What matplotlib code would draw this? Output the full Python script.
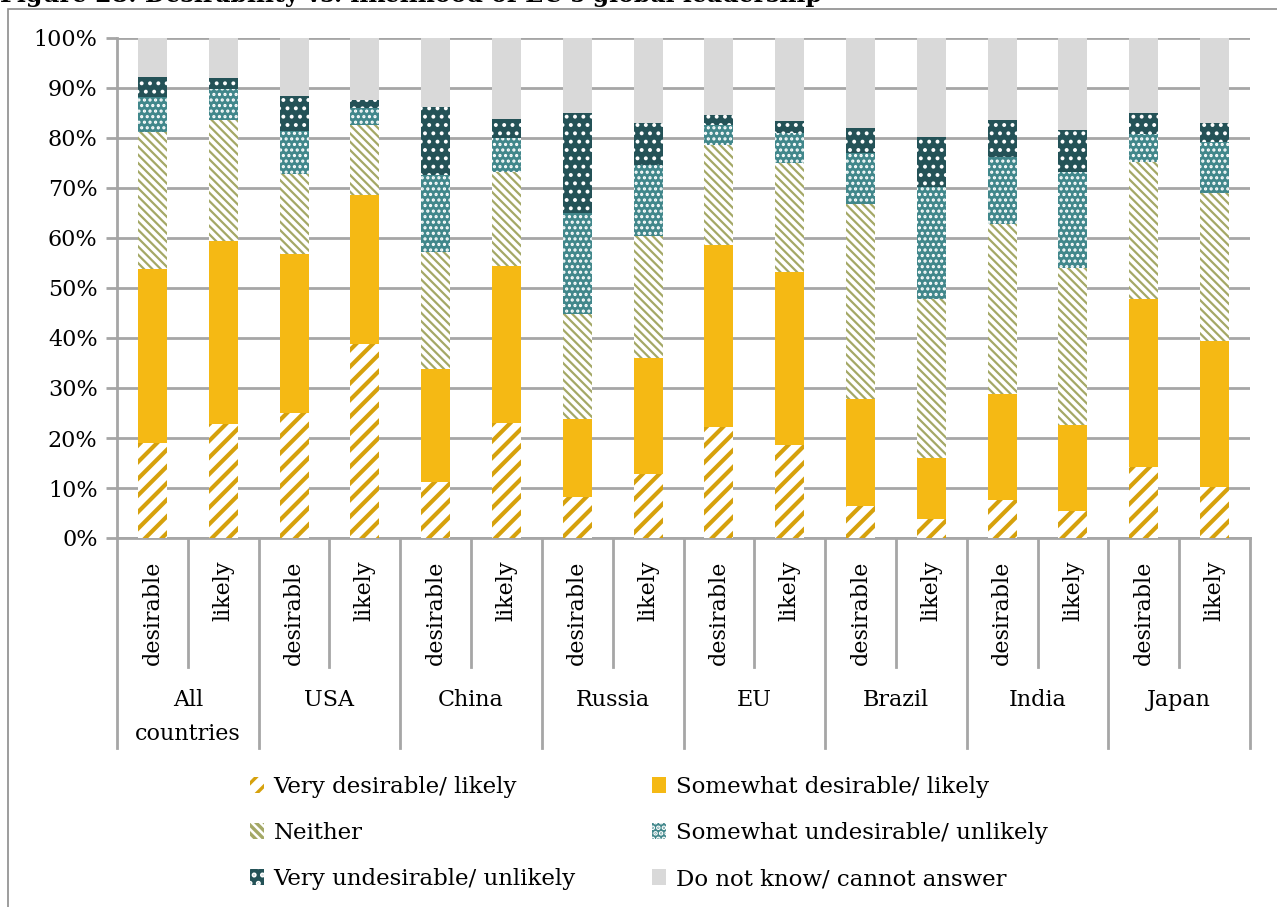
import matplotlib
matplotlib.use("Agg")
import matplotlib.pyplot as plt
import matplotlib.transforms as mtransforms
from matplotlib.patches import Rectangle
import numpy as np

plt.rcParams["font.family"] = ["DejaVu Serif"]
plt.rcParams["hatch.linewidth"] = 2.4

countries = ["All\ncountries", "USA", "China", "Russia", "EU", "Brazil", "India", "Japan"]
sub_labels = ["desirable", "likely"]

series_names = [
    "Very desirable/ likely",
    "Somewhat desirable/ likely",
    "Neither",
    "Somewhat undesirable/ unlikely",
    "Very undesirable/ unlikely",
    "Do not know/ cannot answer",
]

# shares in %, bar order: desirable/likely for each country
very_pos = [19, 22.8, 25, 38.9, 11.3, 23, 8.3, 12.9, 22.2, 18.6, 6.5, 3.8, 7.7, 5.5, 14.3, 10.2]
somewhat_pos = [34.9, 36.7, 31.9, 29.8, 22.5, 31.5, 15.5, 23.2, 36.5, 34.7, 21.3, 12.2, 21.2, 17.1, 33.5, 29.2]
neither = [27.3, 24.2, 15.9, 13.9, 23.5, 18.8, 21, 24.4, 20, 21.8, 39.1, 31.9, 34, 31.4, 27.5, 29.7]
somewhat_neg = [7, 6.2, 8.7, 3.4, 15.3, 6.8, 20.2, 14.1, 3.9, 5.9, 10.2, 22.3, 13.3, 19.3, 5.6, 10.2]
very_neg = [4.1, 2.2, 6.9, 1.5, 13.6, 3.7, 20.1, 8.4, 2.1, 2.4, 5, 10, 7.5, 8.3, 4.1, 3.7]
dont_know = [7.7, 7.9, 11.5, 12.5, 13.8, 16.2, 14.9, 17, 15.3, 16.6, 17.9, 19.8, 16.3, 18.4, 15, 17]

series_values = [very_pos, somewhat_pos, neither, somewhat_neg, very_neg, dont_know]

# (facecolor, hatch colour, hatch, hatch linewidth)
styles = [
    ("white", "#D6A10C", "//", 3.0),
    ("#F5B914", "#F5B914", None, 1.0),
    ("white", "#A4A866", "\\\\\\\\", 1.6),
    ("#41878B", "white", "...", 1.5),
    ("#245257", "white", "..", 1.6),
    ("#D9D9D9", "#D9D9D9", None, 1.0),
]

fig = plt.figure(figsize=(12.77, 9.07), dpi=100)
ax = fig.add_axes([117 / 1277, 1 - 538 / 907, 1133 / 1277, 500 / 907])

x = np.arange(len(very_pos))
bottom = np.zeros(len(x))
handles = []
for name, vals, (fc, hc, hatch, hlw) in zip(series_names, series_values, styles):
    vals = np.array(vals, dtype=float)
    with plt.rc_context({"hatch.linewidth": hlw}):
        bars = ax.bar(x, vals, bottom=bottom, width=0.41, color=fc, edgecolor=hc,
                      hatch=hatch, linewidth=0, label=name, zorder=3)
    for b in bars:
        if hasattr(b, "set_hatch_linewidth"):
            b.set_hatch_linewidth(hlw)
    handles.append(bars)
    bottom += vals

ax.set_xlim(-0.5, len(x) - 0.5)
ax.set_ylim(0, 100)
ax.set_yticks(np.arange(0, 101, 10))
ax.set_yticklabels([f"{v}%" for v in range(0, 101, 10)], fontsize=16)
ax.grid(axis="y", color="#A6A6A6", linewidth=2, zorder=0)
ax.set_axisbelow(True)
for side in ["top", "right"]:
    ax.spines[side].set_visible(False)
ax.spines["left"].set_color("#A6A6A6")
ax.spines["left"].set_linewidth(2)
ax.spines["bottom"].set_color("#A6A6A6")
ax.spines["bottom"].set_linewidth(2)
ax.tick_params(axis="y", length=8, width=2, color="#A6A6A6", pad=6)
ax.set_xticks([])

# two-level category axis
trans = mtransforms.blended_transform_factory(ax.transData, ax.transAxes)
for i in range(len(x)):
    ax.text(x[i], -0.045, sub_labels[i % 2], transform=trans, rotation=90,
            ha="center", va="top", fontsize=16)
for k in range(len(x) + 1):
    xpos = k - 0.5
    y_end = -0.42 if k % 2 == 0 else -0.258
    ax.plot([xpos, xpos], [0, y_end], transform=trans, color="#A6A6A6",
            linewidth=2, clip_on=False)
for j, name in enumerate(countries):
    ax.text(2 * j + 0.5, -0.302, name, transform=trans, ha="center", va="top",
            fontsize=16, linespacing=1.7)

order = [0, 2, 4, 1, 3, 5]
fig.legend([handles[i] for i in order], [series_names[i] for i in order],
           ncol=2, loc="center", bbox_to_anchor=(0.5 + 10 / 1277, 1 - 833 / 907), frameon=False,
           fontsize=16.5, handlelength=0.65, handleheight=0.65, handletextpad=0.4,
           columnspacing=3.3, labelspacing=1.05)

# chart frame and clipped heading
fig.patches.append(Rectangle((8 / 1277, -0.05), 1.1, 1.05 - 9 / 907, transform=fig.transFigure,
                             fill=False, edgecolor="#8C8C8C", linewidth=1.2))
fig.text(0, 1 - 2 / 907, "Figure 28: Desirability vs. likelihood of EU's global leadership",
         ha="left", va="baseline", fontsize=17, fontweight="bold")

fig.savefig("out.png", dpi=100)
